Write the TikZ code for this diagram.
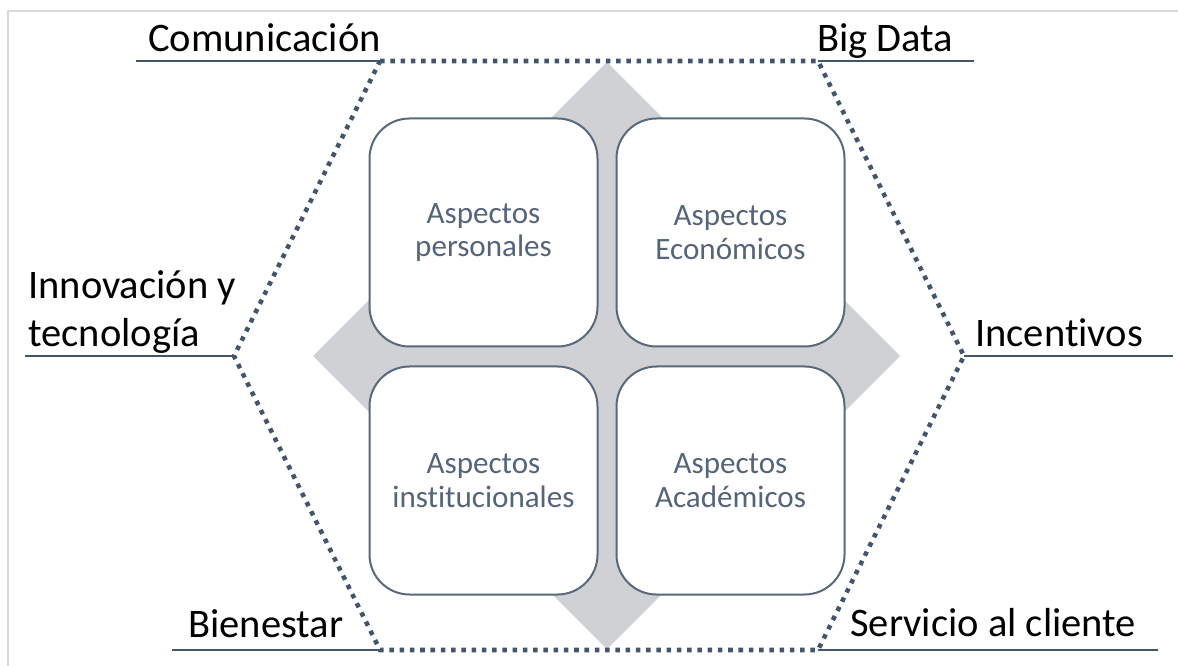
\documentclass[tikz,border=0pt]{standalone}
\usepackage{fontspec}
\setmainfont{Carlito}[Ligatures={NoCommon,NoContextual}]
\usetikzlibrary{positioning}
\definecolor{hexline}{HTML}{44546A}
\definecolor{boxline}{HTML}{5A687C}
\definecolor{boxtext}{HTML}{56647A}
\definecolor{rhomb}{HTML}{D0D1D5}
\definecolor{frame}{HTML}{D9D9D9}
% t and i kept apart
\newcommand\tisep{t\kern0pt i}
\begin{document}
\begin{tikzpicture}
[x=.75pt,y=-.75pt,
 box/.style={draw=boxline,fill=white,line width=1.5pt,rounded corners=30pt,minimum width=171pt,minimum height=171pt,
  align=center,text=boxtext,font=\fontsize{23.3}{25}\selectfont},
 lab/.style={anchor=base west,inner sep=0pt,align=left,font=\fontsize{30.4}{36.5}\selectfont},
 ul/.style={draw=hexline,line width=1.5pt},
 hx/.style={draw=hexline,line width=3.4pt,dash pattern=on 3.4pt off 4.3pt}]
\useasboundingbox(0,0)rectangle(1178,666);
\draw[frame,line width=1.3pt](8,666)--(8,11)--(1178,11);
\fill[rhomb](607,62)--(900,356)--(607,649)--(313,356)--cycle;
\coordinate(tl) at (380,61);\coordinate(tr) at (818,61);\coordinate(r) at (964,356);
\coordinate(br) at (818,650);\coordinate(bl) at (380,650);\coordinate(l) at (234,356);
\draw[hx](tl)--(tr)--(r)--(br)--(bl)--(l)--cycle;
\node(pers) at (483.5,232.5)[box]{Aspectos\\personales};\node(econ)[box,right=12.75pt of pers]{Aspectos\\Económicos};
\node(inst)[box,below=13.5pt of pers]{Aspectos\\ins\tisep tucionales};\node(acad)[box,right=12.75pt of inst]{Aspectos\\Académicos};
\coordinate(u1) at (136,61);\coordinate(u2) at (974,61);\coordinate(u3) at (25,356);
\coordinate(u4) at (1173,356);\coordinate(u5) at (172,650);\coordinate(u6) at (1158,650);
\draw[ul](u1)--(tl);\draw[ul](u2)--(tr);\draw[ul](u3)--(l);\draw[ul](u4)--(r);\draw[ul](u5)--(bl);\draw[ul](u6)--(br);
\node(com) at (148,52)[lab]{Comunicación};\node(big) at (817,52)[lab]{Big Data};
\node(inn) at (28,347)[lab]{Innovación y\\tecnología};\node(inc) at (975,347)[lab]{Incen\tisep vos};
\node(bie) at (188,637)[lab]{Bienestar};\node(ser) at (850,636)[lab]{Servicio al cliente};
\end{tikzpicture}
\end{document}
